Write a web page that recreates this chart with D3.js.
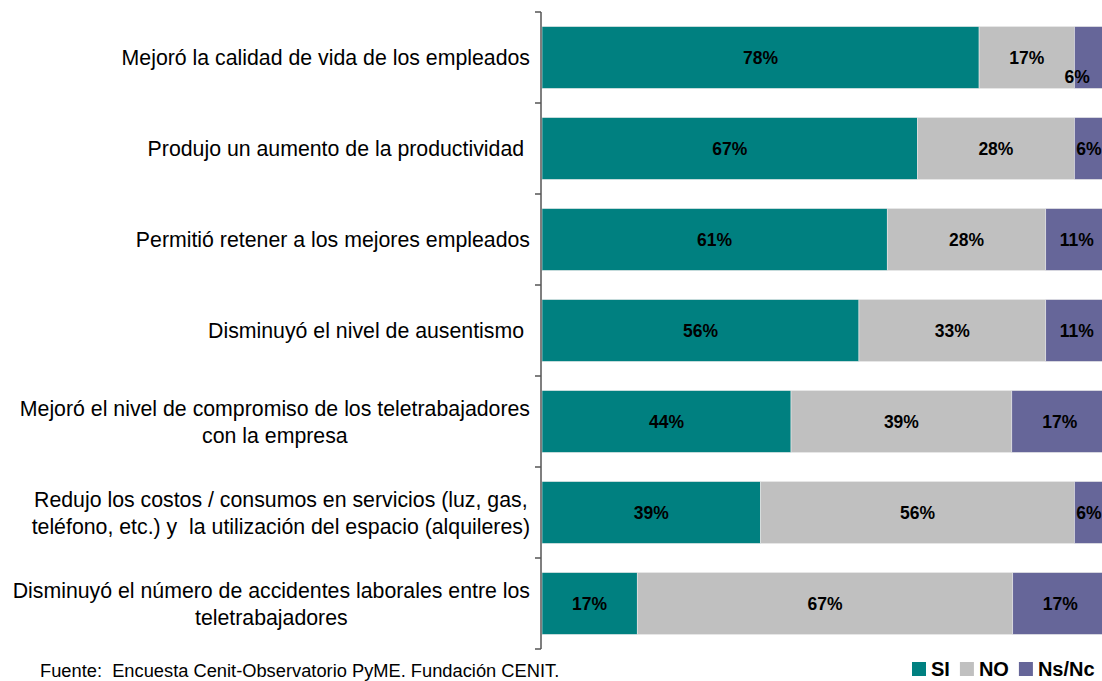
<!DOCTYPE html>
<html>
<head>
<meta charset="utf-8">
<script src="https://cdn.jsdelivr.net/npm/d3@7"></script>
<style>
  html, body { margin: 0; padding: 0; background: #fff; overflow: hidden; }
  svg { display: block; font-family: "Liberation Sans", Arial, sans-serif; }
  text { white-space: pre; }
</style>
</head>
<body>
<div id="chart"></div>
<script>
// chart data
var categories = [
    ["Mejoró la calidad de vida de los empleados"],
    ["Produjo un aumento de la productividad "],
    ["Permitió retener a los mejores empleados"],
    ["Disminuyó el nivel de ausentismo "],
    ["Mejoró el nivel de compromiso de los teletrabajadores", "con la empresa"],
    ["Redujo los costos / consumos en servicios (luz, gas,", "teléfono, etc.) y  la utilización del espacio (alquileres)"],
    ["Disminuyó el número de accidentes laborales entre los", "teletrabajadores"]
];
var siValues = [78, 67, 61, 56, 44, 39, 17];
var noValues = [17, 28, 28, 33, 39, 56, 67];
var nsValues = [6, 6, 11, 11, 17, 6, 17];
var seriesNames = ["SI", "NO", "Ns/Nc"];
var seriesKeys = ["si", "no", "ns"];
var seriesColors = ["#008080", "#c0c0c0", "#666699"];
var sourceText = "Fuente:  Encuesta Cenit-Observatorio PyME. Fundación CENIT.";

var svgWidth = 1102, svgHeight = 681;
var margin = {top: 12, left: 541, bottom: 32};
var plotHeight = svgHeight - margin.top - margin.bottom;

var data = categories.map(function(c, i) {
    return {idx: i, si: siValues[i], no: noValues[i], ns: nsValues[i]};
});

var svg = d3.select("#chart").append("svg")
    .attr("width", svgWidth)
    .attr("height", svgHeight);

var y = d3.scaleBand()
    .domain(d3.range(categories.length))
    .range([margin.top, margin.top + plotHeight])
    .paddingInner(0.32)
    .paddingOuter(0.16);

// 100% stacked, plot runs a bit past the right edge
var x = d3.scaleLinear().domain([0, 1]).range([margin.left + 1, 1108]);

var stack = d3.stack().keys(seriesKeys).offset(d3.stackOffsetExpand);
var layers = stack(data);

var g = svg.append("g");

layers.forEach(function(layer, li) {
    g.selectAll(".bar-" + li)
        .data(layer)
        .enter().append("rect")
        .attr("class", "bar-" + li)
        .attr("x", function(d) { return x(d[0]); })
        .attr("width", function(d) { return x(d[1]) - x(d[0]); })
        .attr("y", function(d, i) { return y(i); })
        .attr("height", y.bandwidth())
        .attr("fill", seriesColors[li])
        .attr("stroke", "#e8e8e8")
        .attr("stroke-width", 0.6);

    g.selectAll(".lbl-" + li)
        .data(layer)
        .enter().append("text")
        .attr("class", "lbl-" + li)
        .text(function(d) { return d.data[seriesKeys[li]] + "%"; })
        .attr("x", function(d, i) {
            var cx = (x(d[0]) + x(d[1])) / 2;
            // the first small slice label is pushed down-left in the original
            if (li === 2 && i === 0) cx -= 14;
            return Math.min(cx, svgWidth - 13);
        })
        .attr("y", function(d, i) {
            var cy = y(i) + y.bandwidth() / 2;
            if (li === 2 && i === 0) cy += 19;
            return cy;
        })
        .attr("dy", "0.36em")
        .attr("text-anchor", "middle")
        .style("font-size", "17.5px")
        .style("font-weight", "bold")
        .style("fill", "#000");
});

// axis with ticks between the categories
var axisX = margin.left;
var tickYs = [margin.top].concat(d3.range(categories.length).map(function(i) {
    return y(i) + y.bandwidth() + y.step() * y.paddingInner() / 2;
}));
tickYs[tickYs.length - 1] = margin.top + plotHeight;

svg.append("line")
    .attr("x1", axisX).attr("x2", axisX)
    .attr("y1", margin.top).attr("y2", margin.top + plotHeight)
    .attr("stroke", "#555").attr("stroke-width", 1.5);

svg.selectAll(".tick")
    .data(tickYs)
    .enter().append("line")
    .attr("class", "tick")
    .attr("x1", axisX - 6).attr("x2", axisX)
    .attr("y1", function(d) { return d; })
    .attr("y2", function(d) { return d; })
    .attr("stroke", "#555").attr("stroke-width", 1.5);

// category labels, centered block, right edge at 530
var labelRight = 530, lineHeight = 27;
categories.forEach(function(lines, i) {
    var cy = y(i) + y.bandwidth() / 2;
    var t = svg.append("text")
        .attr("text-anchor", "middle")
        .style("font-size", "21.3px")
        .style("fill", "#000");
    var spans = lines.map(function(line, k) {
        return t.append("tspan")
            .text(line)
            .attr("y", cy + (k - (lines.length - 1) / 2) * lineHeight)
            .attr("dy", "0.36em");
    });
    var maxW = d3.max(spans, function(s) { return s.node().getComputedTextLength(); });
    spans.forEach(function(s) { s.attr("x", labelRight - maxW / 2); });
});

// source
svg.append("text")
    .attr("x", 40)
    .attr("y", 670)
    .attr("dy", "0.36em")
    .style("font-size", "18.3px")
    .style("fill", "#000")
    .text(sourceText);

// legend
var legend = svg.append("g").attr("transform", "translate(912,669)");
var lx = 0;
seriesNames.forEach(function(name, i) {
    var item = legend.append("g").attr("transform", "translate(" + lx + ",0)");
    item.append("rect")
        .attr("x", 0).attr("y", -7)
        .attr("width", 14).attr("height", 14)
        .attr("fill", seriesColors[i]);
    var txt = item.append("text")
        .attr("x", 19)
        .attr("dy", "0.36em")
        .style("font-size", "20px")
        .style("font-weight", "bold")
        .style("fill", "#000")
        .text(name);
    lx += 19 + txt.node().getComputedTextLength() + 10;
});
</script>
</body>
</html>
